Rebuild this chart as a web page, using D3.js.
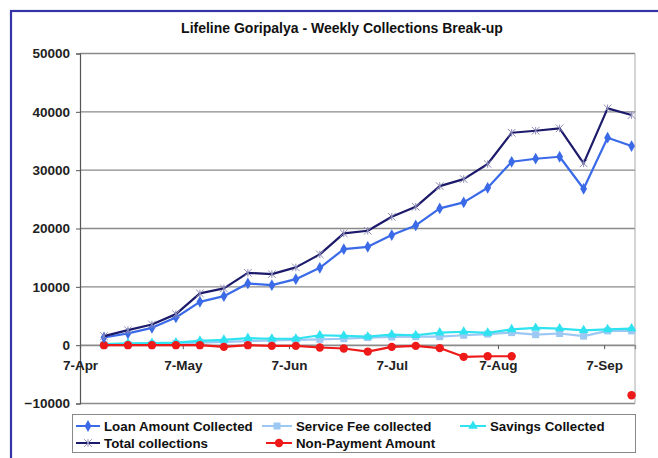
<!DOCTYPE html>
<html><head><meta charset="utf-8">
<script src="https://cdn.jsdelivr.net/npm/d3@7"></script>
<style>
html,body{margin:0;padding:0;background:#fff;}
svg{display:block;font-family:Arial,"Liberation Sans",sans-serif;}
</style></head>
<body>
<svg id="c" width="658" height="458"></svg>
<script>
// ---------- data ----------
const title = "Lifeline Goripalya - Weekly Collections Break-up";
const weeks = ["2007-04-14","2007-04-21","2007-04-28","2007-05-05","2007-05-12","2007-05-19","2007-05-26","2007-06-02","2007-06-09","2007-06-16","2007-06-23","2007-06-30","2007-07-07","2007-07-14","2007-07-21","2007-07-28","2007-08-04","2007-08-11","2007-08-18","2007-08-25","2007-09-01","2007-09-08","2007-09-15"];
const loanCollected = [1320,2010,2970,4750,7430,8400,10580,10290,11320,13260,16460,16860,18870,20530,23450,24480,26980,31440,31960,32300,26810,35560,34130];
const serviceFee = [100,150,200,300,450,550,700,800,900,1000,1100,1300,1400,1450,1450,1700,1900,2150,1800,2000,1550,2450,2450];
const savings = [200,300,350,450,750,900,1200,1100,1100,1700,1600,1450,1800,1700,2150,2300,2100,2700,2950,2850,2550,2700,2850];
const totalCollections = [1540,2570,3550,5320,8870,9730,12400,12180,13330,15560,19160,19610,22010,23720,27270,28470,31050,36410,36760,37170,31170,40600,39450];
const nonPayment = [0,0,0,0,0,-290,0,-120,-120,-400,-570,-1100,-290,-120,-500,-2000,-1900,-1900,null,null,null,null,-8580];
const xTickDates = ["2007-04-07","2007-05-07","2007-06-07","2007-07-07","2007-08-07","2007-09-07"];
const xTickLabels = ["7-Apr","7-May","7-Jun","7-Jul","7-Aug","7-Sep"];
const xDomain = ["2007-04-07","2007-09-16"];
const yTicks = [-10000,0,10000,20000,30000,40000,50000];
const seriesNames = ["Loan Amount Collected","Service Fee collected","Savings Collected","Total collections","Non-Payment Amount"];

// ---------- setup ----------
const parse = d3.timeParse("%Y-%m-%d");
const svg = d3.select("#c");
const L = 80, R = 635, T = 53.5, B = 403.5;
const x = d3.scaleTime().domain(xDomain.map(parse)).range([L, R]);
const y = d3.scaleLinear().domain([-10000, 50000]).range([B, T]);
const FONT = "Arial, 'Liberation Sans', sans-serif";

// outer border
svg.append("rect").attr("x", 11).attr("y", 11).attr("width", 700).attr("height", 500)
  .attr("fill", "none").attr("stroke", "#3434a4").attr("stroke-width", 2.2);

svg.append("text").attr("x", 342).attr("y", 33).attr("text-anchor", "middle")
  .attr("font-size", 14).attr("font-weight", "bold").attr("fill", "#111").text(title);

// gridlines
svg.append("g").selectAll("line").data(yTicks).join("line")
  .attr("x1", L).attr("x2", R).attr("y1", d => y(d)).attr("y2", d => y(d))
  .attr("stroke", "#8a8a8a").attr("stroke-width", 1.3);
// plot border right
svg.append("line").attr("x1", R).attr("x2", R).attr("y1", T).attr("y2", B)
  .attr("stroke", "#aaa").attr("stroke-width", 1);

// y axis
const yAxis = d3.axisLeft(y).tickValues(yTicks).tickSize(4).tickPadding(6).tickFormat(d3.format("d"));
const gy = svg.append("g").attr("transform", `translate(${L},0)`).call(yAxis);
gy.select(".domain").attr("stroke", "#555").attr("stroke-width", 1.2);
gy.selectAll(".tick line").attr("stroke", "#555");
gy.selectAll("text").attr("font-size", 13.5).attr("font-weight", "bold").attr("fill", "#222")
  .attr("font-family", FONT);

// x axis at 0
const xAxis = d3.axisBottom(x).tickValues(xTickDates.map(parse)).tickSize(4).tickPadding(11)
  .tickFormat((d, i) => xTickLabels[i]);
const gx = svg.append("g").attr("transform", `translate(0,${y(0)})`).call(xAxis);
gx.select(".domain").attr("stroke", "#8a8a8a").attr("stroke-width", 1.3);
gx.selectAll(".tick line").attr("stroke", "#555");
gx.selectAll("text").attr("font-size", 13.5).attr("font-weight", "bold").attr("fill", "#222")
  .attr("font-family", FONT);

// series
const dates = weeks.map(parse);
const series = [
  {name: seriesNames[3], vals: totalCollections, color: "#1c1a6a", marker: "star", mcolor: "#8d8db8"},
  {name: seriesNames[0], vals: loanCollected, color: "#3a6ae8", marker: "diamond", mcolor: "#3a6ae8"},
  {name: seriesNames[1], vals: serviceFee, color: "#9cc8f4", marker: "square", mcolor: "#9cc8f4"},
  {name: seriesNames[2], vals: savings, color: "#2ee2f0", marker: "triangle", mcolor: "#2ee2f0"},
  {name: seriesNames[4], vals: nonPayment, color: "#ee1a1a", marker: "circle", mcolor: "#ee1a1a"},
];
const line = d3.line().defined(d => d.v !== null).x(d => x(d.d)).y(d => y(d.v));

function drawMarker(g, type, color, cx, cy) {
  if (type === "diamond") {
    g.append("path").attr("d", d3.symbol(d3.symbolDiamond, 40)()).attr("transform", `translate(${cx},${cy})`).attr("fill", color);
  } else if (type === "square") {
    g.append("rect").attr("x", cx - 3.5).attr("y", cy - 3.5).attr("width", 7).attr("height", 7).attr("fill", color);
  } else if (type === "triangle") {
    g.append("path").attr("d", d3.symbol(d3.symbolTriangle, 40)()).attr("transform", `translate(${cx},${cy})`).attr("fill", color);
  } else if (type === "circle") {
    g.append("circle").attr("cx", cx).attr("cy", cy).attr("r", 4.2).attr("fill", color);
  } else if (type === "star") {
    const s = 3.8;
    g.append("path").attr("d", `M${cx-s},${cy-s}L${cx+s},${cy+s}M${cx-s},${cy+s}L${cx+s},${cy-s}M${cx},${cy-s}L${cx},${cy+s}`)
      .attr("stroke", color).attr("stroke-width", 1).attr("fill", "none");
  }
}

const order = [2, 3, 4, 1, 0];
order.forEach(i => {
  const s = series[i];
  const pts = dates.map((d, k) => ({d, v: s.vals[k]}));
  const g = svg.append("g");
  g.append("path").datum(pts).attr("d", line).attr("fill", "none")
    .attr("stroke", s.color).attr("stroke-width", 2.2).attr("stroke-linejoin", "round");
  pts.filter(p => p.v !== null).forEach(p => drawMarker(g, s.marker, s.mcolor, x(p.d), y(p.v)));
});

// legend
const lg = svg.append("g");
lg.append("rect").attr("x", 72.5).attr("y", 414.5).attr("width", 563).attr("height", 38)
  .attr("fill", "#fff").attr("stroke", "#888").attr("stroke-width", 1);
const legendItems = [
  {s: series[1], lx: 76, tx: 104, ty: 426},
  {s: series[2], lx: 262, tx: 296, ty: 426},
  {s: series[3], lx: 460, tx: 490, ty: 426},
  {s: series[0], lx: 76, tx: 104, ty: 443},
  {s: series[4], lx: 266, tx: 296, ty: 443},
];
legendItems.forEach(it => {
  lg.append("line").attr("x1", it.lx).attr("x2", it.tx - 4).attr("y1", it.ty).attr("y2", it.ty)
    .attr("stroke", it.s.color).attr("stroke-width", 2);
  drawMarker(lg, it.s.marker, it.s.mcolor, (it.lx + it.tx - 4) / 2, it.ty);
  lg.append("text").attr("x", it.tx).attr("y", it.ty + 4.8).attr("font-size", 13.3)
    .attr("font-weight", "bold").attr("fill", "#111").attr("font-family", FONT).text(it.s.name);
});
</script>
</body></html>
